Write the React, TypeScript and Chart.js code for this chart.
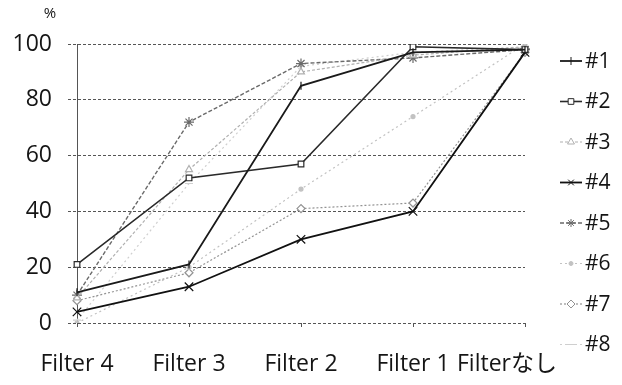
import React, { useEffect, useRef } from "react";
import { Chart, registerables } from "chart.js";
import { drawPoint } from "chart.js/helpers";

Chart.register(...registerables);

// Filter stages along the x axis
const categories = ["Filter 4", "Filter 3", "Filter 2", "Filter 1", "Filterなし"];
const yTickValues = [0, 20, 40, 60, 80, 100];
const unitLabel = "%";

// Percentages per sample
const seriesNames = ["#1", "#2", "#3", "#4", "#5", "#6", "#7", "#8"];
const s1 = [11, 21, 85, 97, 98];
const s2 = [21, 52, 57, 99, 98];
const s3 = [9, 55, 90, 96, 99];
const s4 = [4, 13, 30, 40, 97];
const s5 = [10, 72, 93, 95, 98];
const s6 = [0, 20, 48, 74, 100];
const s7 = [8, 18, 41, 43, 97];
const s8 = [1, 50, 92, 97, 99];
const seriesValues = [s1, s2, s3, s4, s5, s6, s7, s8];

// Line and marker look of each series
const seriesStyles = [
  { color: "#1a1a1a", width: 1.8, dash: [], point: "line", rotation: 90, radius: 4, fill: "#1a1a1a" },
  { color: "#2a2a2a", width: 1.6, dash: [], point: "rect", rotation: 0, radius: 4, fill: "#ffffff" },
  { color: "#b0b0b0", width: 1.2, dash: [3, 2], point: "triangle", rotation: 0, radius: 4, fill: "#ffffff" },
  { color: "#111111", width: 1.8, dash: [], point: "crossRot", rotation: 0, radius: 6, fill: "#111111" },
  { color: "#6a6a6a", width: 1.4, dash: [4, 2], point: "star", rotation: 0, radius: 5, fill: "#6a6a6a" },
  { color: "#c2c2c2", width: 1.2, dash: [2, 3], point: "circle", rotation: 0, radius: 2, fill: "#c2c2c2" },
  { color: "#939393", width: 1.2, dash: [2, 2], point: "rectRot", rotation: 0, radius: 4, fill: "#ffffff" },
  { color: "#cfcfcf", width: 1.2, dash: [2, 3], point: "line", rotation: 0, radius: 4, fill: "#cfcfcf" },
];

const FONT = '"Open Sans", "Noto Sans CJK JP", sans-serif';
const TEXT = "#151515";

// Draws the % unit, the category labels and the right-hand legend
const decorations = {
  id: "decorations",
  afterDraw(chart: any) {
    const { ctx, chartArea } = chart;
    const xScale = chart.scales.x;
    ctx.save();

    ctx.fillStyle = TEXT;
    ctx.font = `15px ${FONT}`;
    ctx.textAlign = "center";
    ctx.textBaseline = "middle";
    ctx.fillText(unitLabel, 50, 14);

    ctx.font = `23px ${FONT}`;
    ctx.textBaseline = "alphabetic";
    ctx.textAlign = "left";
    const maxRight = chart.width - 65;
    categories.forEach((label, i) => {
      const w = ctx.measureText(label).width;
      let left = xScale.getPixelForValue(i) - w / 2;
      if (left + w > maxRight) left = maxRight - w;
      ctx.fillText(label, left, chartArea.bottom + 48);
    });

    const lx0 = chartArea.right + 35;
    const lx1 = chartArea.right + 57;
    const tx = chartArea.right + 60;
    chart.data.datasets.forEach((ds: any, i: number) => {
      const st = seriesStyles[i];
      const y = 61 + i * 40.5;
      ctx.strokeStyle = st.color;
      ctx.lineWidth = st.width;
      ctx.setLineDash(st.dash);
      ctx.beginPath();
      ctx.moveTo(lx0, y);
      ctx.lineTo(lx1, y);
      ctx.stroke();
      ctx.setLineDash([]);
      ctx.fillStyle = st.fill;
      ctx.lineWidth = 1;
      drawPoint(ctx, { pointStyle: st.point, rotation: st.rotation, radius: Math.min(st.radius, 4), borderWidth: 1 }, (lx0 + lx1) / 2, y);
      ctx.fillStyle = TEXT;
      ctx.font = `21px ${FONT}`;
      ctx.textAlign = "left";
      ctx.textBaseline = "middle";
      ctx.fillText(ds.label, tx, y + 1);
    });
    ctx.restore();
  },
};

export default function App() {
  const canvasRef = useRef<HTMLCanvasElement | null>(null);

  useEffect(() => {
    const canvas = canvasRef.current;
    if (!canvas) return;
    const chart = new Chart(canvas, {
      type: "line",
      data: {
        labels: categories,
        datasets: seriesValues.map((vals, i) => {
          const st = seriesStyles[i];
          return {
            label: seriesNames[i],
            data: vals,
            borderColor: st.color,
            borderWidth: st.width,
            borderDash: st.dash,
            pointStyle: st.point,
            rotation: st.rotation,
            pointRadius: st.radius,
            pointBorderColor: st.color,
            pointBackgroundColor: st.fill,
            pointBorderWidth: 1.2,
            tension: 0,
            fill: false,
          };
        }),
      },
      options: {
        responsive: false,
        animation: false,
        layout: { padding: { top: 44, right: 97, left: 0, bottom: 0 } },
        plugins: { legend: { display: false }, tooltip: { enabled: false } },
        scales: {
          x: {
            type: "category",
            offset: false,
            grid: { drawOnChartArea: false, drawTicks: true, tickLength: 4, color: "#555" },
            border: { display: false },
            ticks: { display: false },
            afterFit: (scale: any) => {
              scale.height = 62;
            },
          },
          y: {
            min: 0,
            max: 100,
            afterBuildTicks: (scale: any) => {
              scale.ticks = yTickValues.map((v) => ({ value: v }));
            },
            grid: { color: "#555", lineWidth: 1, tickLength: 9, tickBorderDash: [3, 2] },
            border: { color: "#555", dash: [3, 2] },
            ticks: {
              padding: 16,
              color: TEXT,
              font: { family: FONT, size: 23 },
            },
            afterFit: (scale: any) => {
              scale.width = 77;
            },
          },
        },
      },
      plugins: [decorations],
    });
    // dashed horizontal gridlines
    (chart.options.scales as any).y.grid.borderDash = [3, 2];
    chart.update();
    return () => chart.destroy();
  }, []);

  return (
    <div style={{ position: "fixed", left: 0, top: 0, width: 622, height: 385, background: "#fff" }}>
      <canvas ref={canvasRef} width={622} height={385} />
    </div>
  );
}
